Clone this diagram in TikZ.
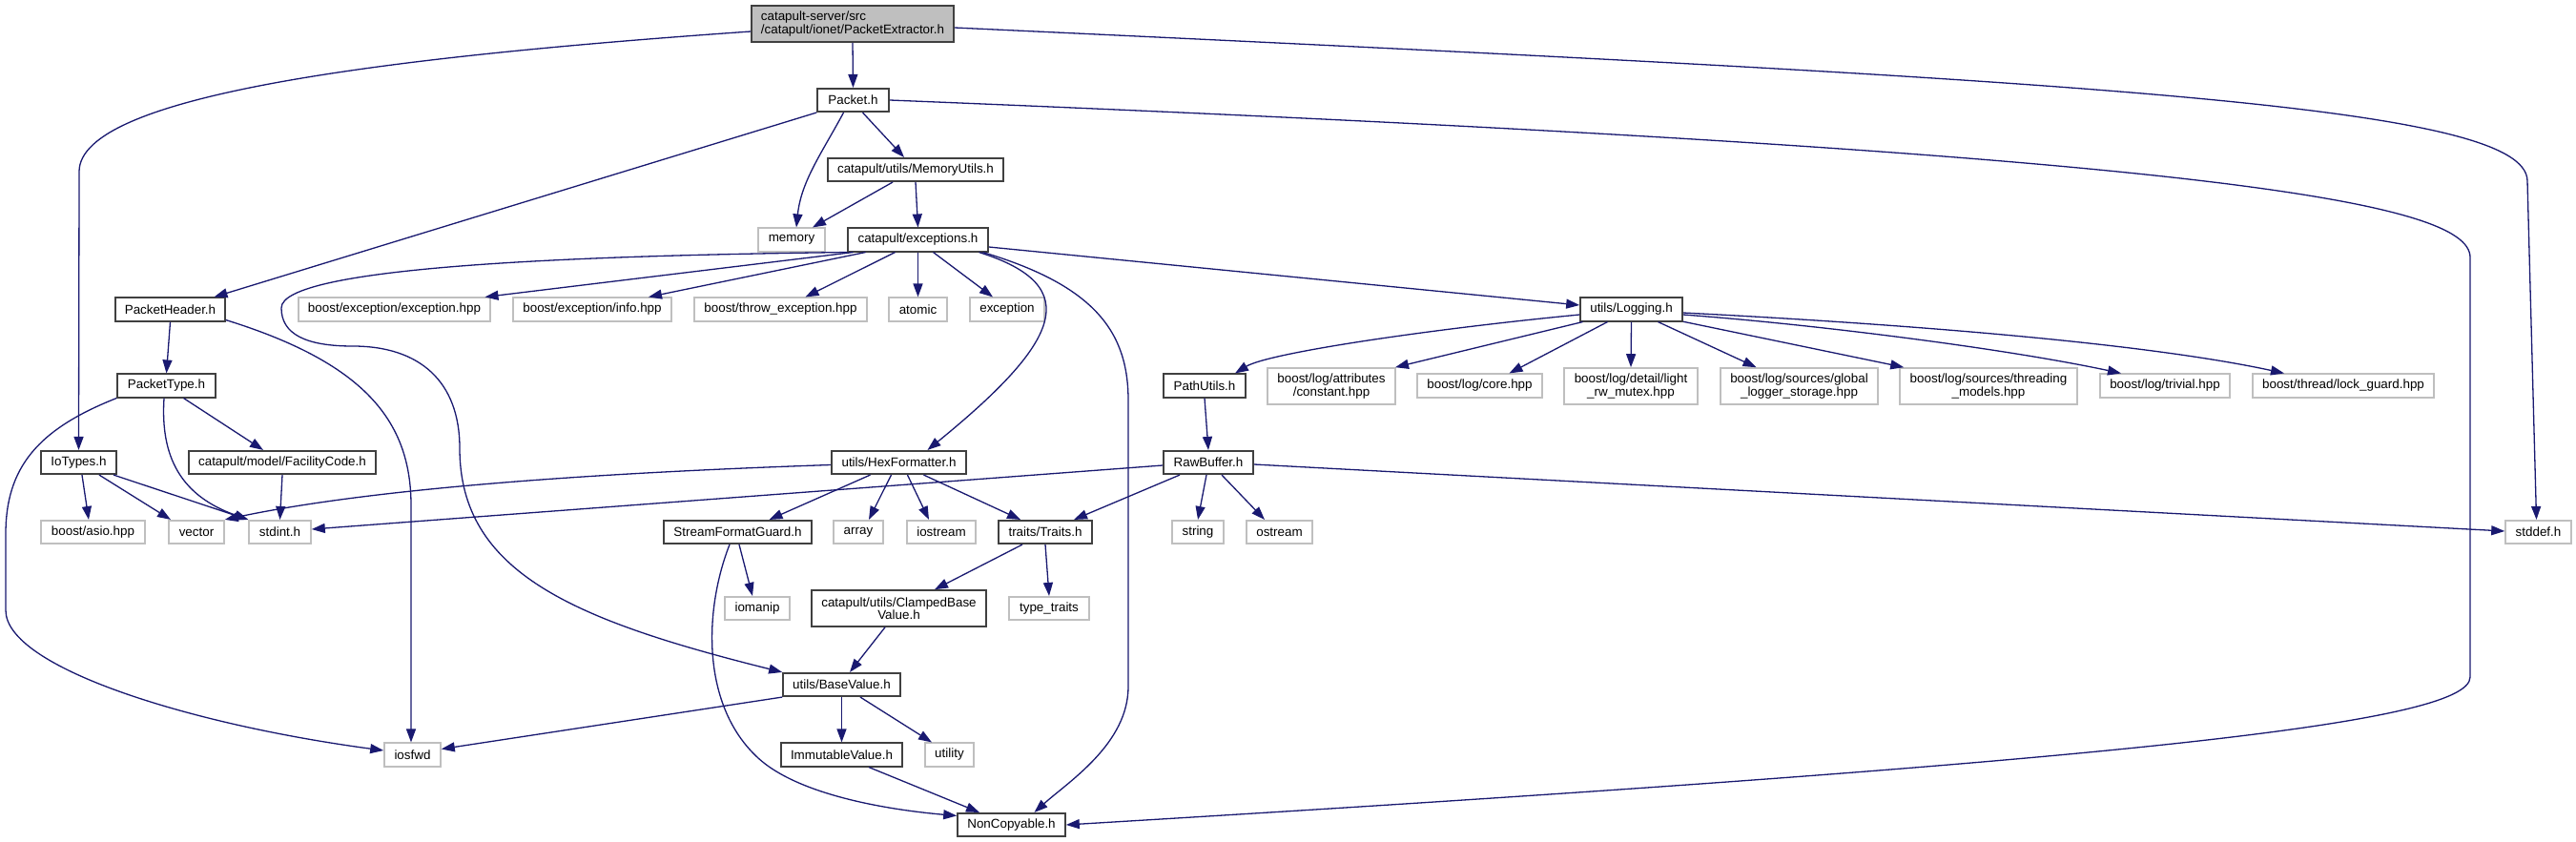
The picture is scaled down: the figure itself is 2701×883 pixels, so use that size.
\documentclass[tikz,border=0pt]{standalone}
\usepackage{fontspec}
\setmainfont{Liberation Sans}
\usetikzlibrary{arrows.meta}
\definecolor{edgeblue}{HTML}{191970}
\definecolor{bordergray}{HTML}{404040}
\definecolor{lightborder}{HTML}{BFBFBF}
\definecolor{rootfill}{HTML}{BFBFBF}
\tikzset{
  base/.style={rectangle, inner sep=0pt, line width=1.6pt, font=\fontsize{13.4}{13.4}\selectfont, minimum height=24.5pt, align=center, fill=white},
  blk/.style={base, draw=bordergray},
  gry/.style={base, draw=lightborder},
  rootn/.style={base, draw=bordergray, fill=rootfill, align=left},
  dbl/.style={minimum height=38pt},
  e/.style={draw=edgeblue, line width=1.3pt, -{Triangle[length=14pt,width=10pt]}},
}
\begin{document}
\begin{tikzpicture}[x=1pt, y=-1pt]
\fill[white] (0,0) rectangle (2701,883);
\useasboundingbox (0,0) rectangle (2701,883);

% nodes
\node[rootn, minimum width=212pt, dbl] (PE) at (894,25) {catapult-server/src\\/catapult/ionet/PacketExtractor.h};
\node[blk, minimum width=75pt] (Packet) at (894.5,105) {Packet.h};
\node[blk, minimum width=184pt] (MemU) at (960,178) {catapult/utils/MemoryUtils.h};
\node[gry, minimum width=70pt] (memory) at (830,251.5) {memory};
\node[blk, minimum width=147pt] (exc) at (962.5,251.5) {catapult/exceptions.h};

\node[blk, minimum width=115pt] (PH) at (178.5,324.5) {PacketHeader.h};
\node[gry, minimum width=201pt] (exchpp) at (413.5,324.5) {boost/exception/exception.hpp};
\node[gry, minimum width=166pt] (info) at (621,324.5) {boost/exception/info.hpp};
\node[gry, minimum width=181pt] (throw) at (818.5,324.5) {boost/throw\_exception.hpp};
\node[gry, minimum width=61pt] (atomic) at (962.5,324.5) {atomic};
\node[gry, minimum width=78pt] (exception) at (1056,324.5) {exception};
\node[blk, minimum width=107pt] (Logging) at (1710.5,324.5) {utils/Logging.h};

\node[blk, minimum width=103pt] (PT) at (174.5,404.5) {PacketType.h};
\node[blk, minimum width=86pt] (PathU) at (1263,404.5) {PathUtils.h};
\node[gry, minimum width=134pt, dbl] (constant) at (1396,405) {boost/log/attributes\\/constant.hpp};
\node[gry, minimum width=131pt] (core) at (1551.5,404.5) {boost/log/core.hpp};
\node[gry, minimum width=140pt, dbl] (mutex) at (1710,405) {boost/log/detail/light\\\_rw\_mutex.hpp};
\node[gry, minimum width=165pt, dbl] (global) at (1886.5,405) {boost/log/sources/global\\\_logger\_storage.hpp};
\node[gry, minimum width=186pt, dbl] (threading) at (2085,405) {boost/log/sources/threading\\\_models.hpp};
\node[gry, minimum width=136pt] (trivial) at (2270,404.5) {boost/log/trivial.hpp};
\node[gry, minimum width=190pt] (lockg) at (2457,404.5) {boost/thread/lock\_guard.hpp};

\node[blk, minimum width=79pt] (IoT) at (82.5,485) {IoTypes.h};
\node[blk, minimum width=196pt] (Fac) at (296,485) {catapult/model/FacilityCode.h};
\node[blk, minimum width=141pt] (Hex) at (942.5,485) {utils/HexFormatter.h};
\node[blk, minimum width=94pt] (RawB) at (1267,485) {RawBuffer.h};

\node[gry, minimum width=109pt] (asio) at (97.5,558) {boost/asio.hpp};
\node[gry, minimum width=58pt] (vector) at (206,558) {vector};
\node[gry, minimum width=65pt] (stdint) at (293.5,558) {stdint.h};
\node[blk, minimum width=155pt] (SFG) at (773.5,558) {StreamFormatGuard.h};
\node[gry, minimum width=52pt] (array) at (900,558) {array};
\node[gry, minimum width=72pt] (iostream) at (987,558) {iostream};
\node[blk, minimum width=98pt] (Traits) at (1096,558) {traits/Traits.h};
\node[gry, minimum width=54pt] (string) at (1256,558) {string};
\node[gry, minimum width=69pt] (ostream) at (1341.5,558) {ostream};
\node[gry, minimum width=69pt] (stddef) at (2661.5,558) {stddef.h};

\node[gry, minimum width=68pt] (iomanip) at (794,638) {iomanip};
\node[blk, minimum width=183pt, dbl] (Clamped) at (942.5,638) {catapult/utils/ClampedBase\\Value.h};
\node[gry, minimum width=84pt] (typetraits) at (1100,638) {type\_traits};

\node[blk, minimum width=123pt] (BaseV) at (882.5,718) {utils/BaseValue.h};

\node[gry, minimum width=59pt] (iosfwd) at (432.5,791.5) {iosfwd};
\node[blk, minimum width=127pt] (Immut) at (882.5,791.5) {ImmutableValue.h};
\node[gry, minimum width=51pt] (utility) at (995.5,791.5) {utility};

\node[blk, minimum width=113pt] (NonCopy) at (1060.5,865) {NonCopyable.h};

% edges from PacketExtractor.h
\draw[e] (PE.south) -- (Packet.north);
\draw[e] ([yshift=-8pt]PE.west) .. controls (400,60) and (83,100) .. (83,180) -- (IoT.north);
\draw[e] ([yshift=-4pt]PE.east) .. controls (2200,85) and (2650,110) .. (2650,190) -- ([xshift=-2pt]stddef.north);

% Packet.h
\draw[e] ([xshift=-10pt]Packet.south) .. controls (862,160) and (840,190) .. ([xshift=5pt]memory.north);
\draw[e] ([xshift=10pt]Packet.south) -- ([xshift=-12pt]MemU.north);
\draw[e] (Packet.south west) -- ([xshift=46pt]PH.north);
\draw[e] (Packet.east) .. controls (2300,160) and (2590,210) .. (2590,270) -- (2590,710) .. controls (2590,760) and (2200,800) .. (NonCopy.east);

% MemoryUtils.h
\draw[e] ([xshift=-24pt]MemU.south) -- ([xshift=22pt]memory.north);
\draw[e] (MemU.south) -- (exc.north);

% exceptions.h
\draw[e] ([xshift=-68pt]exc.south) -- ([xshift=95pt]exchpp.north);
\draw[e] ([xshift=-55pt]exc.south) -- ([xshift=59pt]info.north);
\draw[e] ([xshift=-24pt]exc.south) -- ([xshift=26pt]throw.north);
\draw[e] (exc.south) -- (atomic.north);
\draw[e] ([xshift=16pt]exc.south) -- ([xshift=-15pt]exception.north);
\draw[e] ([yshift=-7.5pt]exc.east) -- ([yshift=4.5pt]Logging.west);
\draw[e] ([xshift=64pt]exc.south) .. controls (1140,300) and (1110,360) .. ([xshift=30pt]Hex.north);
\draw[e] ([xshift=68pt]exc.south) .. controls (1150,300) and (1183,350) .. (1183,420) -- (1183,720) .. controls (1183,780) and (1120,820) .. ([xshift=24pt]NonCopy.north);
\draw[e] (exc.south west) .. controls (600,268) and (295,280) .. (295,323) .. controls (295,350) and (320,363) .. (370,363) .. controls (440,363) and (482,400) .. (482,470) .. controls (482,600) and (600,650) .. (BaseV.north west);

% Logging.h
\draw[e] ([yshift=-5.5pt]Logging.west) .. controls (1500,345) and (1330,370) .. ([xshift=32pt]PathU.north);
\draw[e] ([xshift=-51pt]Logging.south) -- ([xshift=67pt]constant.north);
\draw[e] ([xshift=-25pt]Logging.south) -- ([xshift=31pt]core.north);
\draw[e] (Logging.south) -- (mutex.north);
\draw[e] ([xshift=28pt]Logging.south) -- ([xshift=-45pt]global.north);
\draw[e] ([yshift=0.3pt]Logging.south east) -- ([xshift=5pt]threading.north west);
\draw[e] ([yshift=-5.5pt]Logging.east) .. controls (1900,340) and (2100,365) .. ([xshift=-46pt]trivial.north);
\draw[e] ([yshift=-3.5pt]Logging.east) .. controls (2000,340) and (2250,360) .. ([xshift=-62pt]lockg.north);

% PacketHeader.h / PacketType.h
\draw[e] (PH.south) -- (PT.north);
\draw[e] ([yshift=2pt]PH.south east) .. controls (380,380) and (431,440) .. (431,530) -- ([xshift=-1.5pt]iosfwd.north);
\draw[e] ([xshift=18pt]PT.south) -- ([xshift=-20pt]Fac.north);
\draw[e] ([xshift=-2.5pt]PT.south) .. controls (168,480) and (190,520) .. (stdint.north west);
\draw[e] (PT.south west) .. controls (40,450) and (6,490) .. (6,560) -- (6,640) .. controls (6,700) and (200,760) .. ([yshift=4.5pt]iosfwd.west);

% IoTypes.h / FacilityCode.h
\draw[e] ([xshift=3.5pt]IoT.south) -- ([xshift=-4.5pt]asio.north);
\draw[e] ([xshift=21.5pt]IoT.south) -- ([xshift=-27pt]vector.north);
\draw[e] ([xshift=36.5pt]IoT.south) -- (stdint.north west);
\draw[e] (Fac.south) -- (stdint.north);

% HexFormatter.h
\draw[e] ([yshift=-2.5pt]Hex.west) .. controls (650,495) and (400,510) .. (vector.north east);
\draw[e] ([xshift=-30pt]Hex.south) -- ([xshift=33pt]SFG.north);
\draw[e] ([xshift=-8pt]Hex.south) -- ([xshift=11pt]array.north);
\draw[e] ([xshift=9pt]Hex.south) -- ([xshift=-13pt]iostream.north);
\draw[e] ([xshift=26pt]Hex.south) -- ([xshift=-26pt]Traits.north);

% PathUtils.h / RawBuffer.h
\draw[e] (PathU.south) -- (RawB.north);
\draw[e] ([yshift=-3pt]RawB.west) -- ([yshift=3pt]stdint.east);
\draw[e] ([xshift=-30pt]RawB.south) -- ([xshift=30pt]Traits.north);
\draw[e] ([xshift=-2pt]RawB.south) -- (string.north);
\draw[e] ([xshift=14pt]RawB.south) -- ([xshift=-15.5pt]ostream.north);
\draw[e] ([yshift=-2pt]RawB.east) -- ([yshift=1pt]stddef.west);

% StreamFormatGuard.h
\draw[e] ([xshift=1.5pt]SFG.south) -- ([xshift=-5pt]iomanip.north);
\draw[e] ([xshift=-8.5pt]SFG.south) .. controls (738,640) and (735,740) .. (795,795) .. controls (840,836) and (940,850) .. ([yshift=-3.5pt]NonCopy.north west);

% Traits.h / ClampedBaseValue.h
\draw[e] ([xshift=-24pt]Traits.south) -- ([xshift=37.5pt]Clamped.north);
\draw[e] (Traits.south) -- (typetraits.north);
\draw[e] ([xshift=-14.5pt]Clamped.south) -- ([xshift=8.5pt]BaseV.north);

% BaseValue.h / ImmutableValue.h
\draw[e] (BaseV.south west) -- ([yshift=6pt]iosfwd.east);
\draw[e] (BaseV.south) -- (Immut.north);
\draw[e] ([xshift=19.5pt]BaseV.south) -- ([xshift=-18.5pt]utility.north);
\draw[e] ([xshift=28.5pt]Immut.south) -- ([xshift=-33.5pt]NonCopy.north);
\end{tikzpicture}
\end{document}
